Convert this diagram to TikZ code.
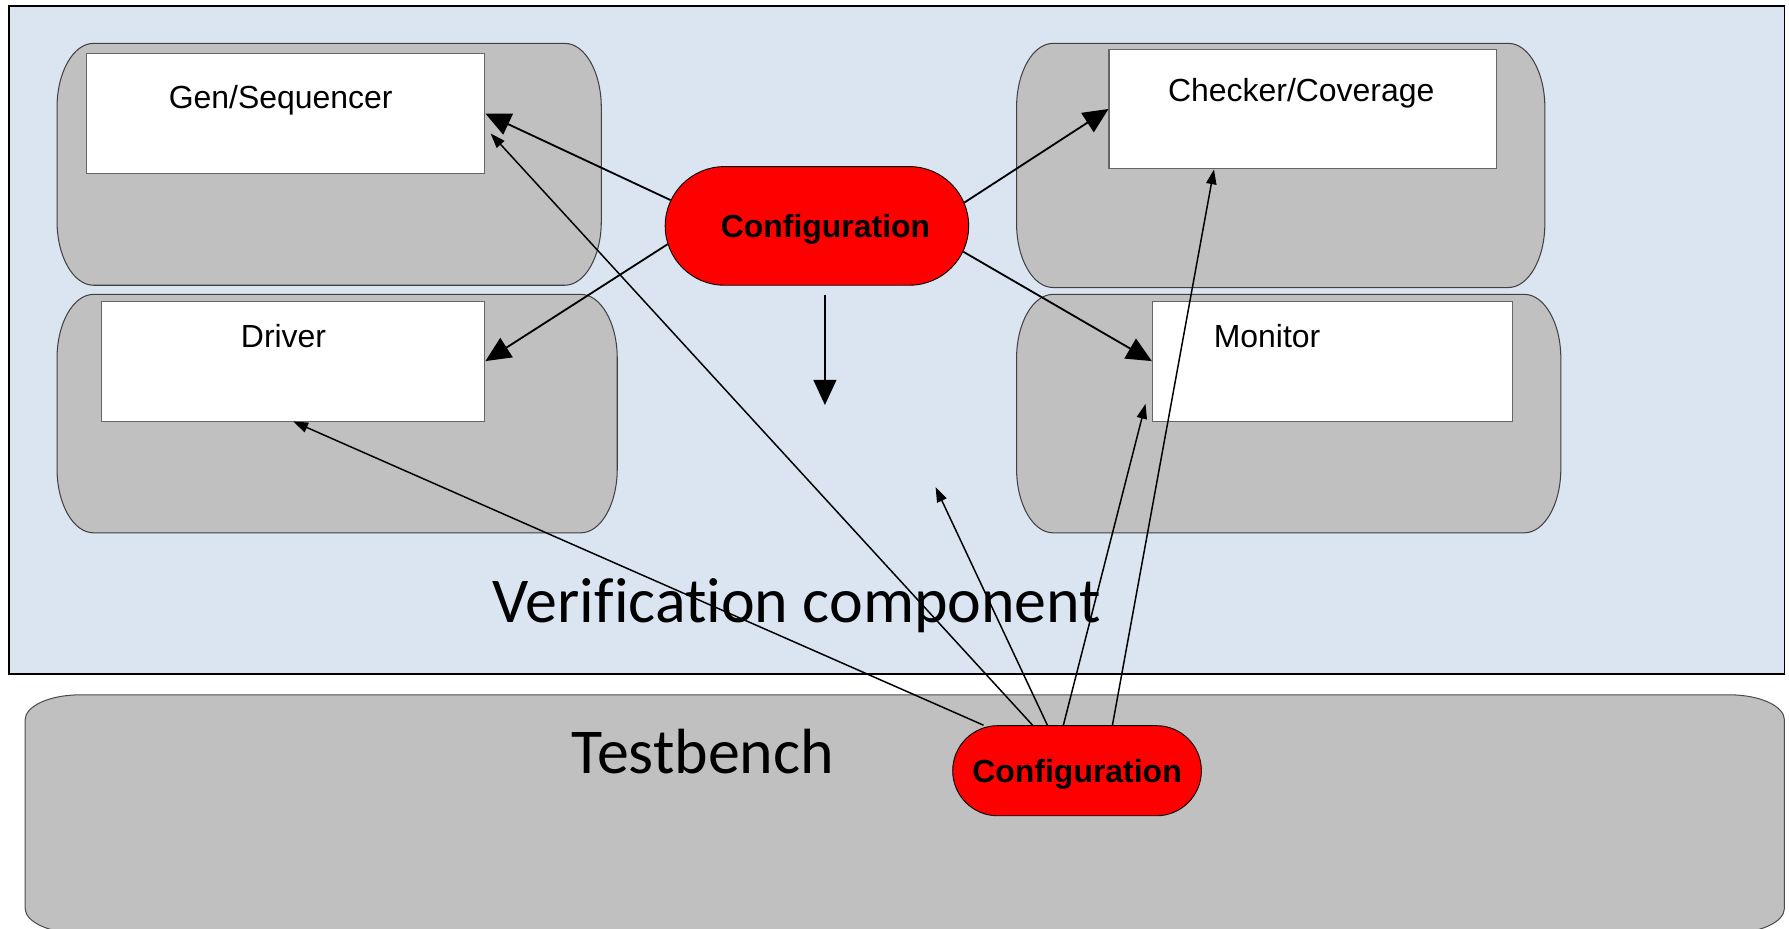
\documentclass[tikz,border=0pt]{standalone}
\usepackage{fontspec}
\setmainfont{Liberation Sans}
\newfontfamily\calib[Ligatures=NoCommon]{Carlito}
\usetikzlibrary{arrows.meta,shapes.misc}

\definecolor{vcblue}{RGB}{219,229,241}
\definecolor{compgray}{RGB}{192,192,192}
\definecolor{cfgred}{RGB}{255,0,0}

% rectangle with elliptical corners: style, x1, y1, x2, y2, rx, ry
\newcommand\softrect[7]{%
  \path[#1] ({#2+#6},#3) -- ({#4-#6},#3)
    .. controls ({#4-0.448*#6},#3) and (#4,{#3+0.448*#7}) .. (#4,{#3+#7})
    -- (#4,{#5-#7})
    .. controls (#4,{#5-0.448*#7}) and ({#4-0.448*#6},#5) .. ({#4-#6},#5)
    -- ({#2+#6},#5)
    .. controls ({#2+0.448*#6},#5) and (#2,{#5-0.448*#7}) .. (#2,{#5-#7})
    -- (#2,{#3+#7})
    .. controls (#2,{#3+0.448*#7}) and ({#2+0.448*#6},#3) .. ({#2+#6},#3) -- cycle;}

\begin{document}
\begin{tikzpicture}[x=1pt,y=-1pt,
  outerbox/.style={draw=black,line width=1.6pt,fill=vcblue},
  holder/.style={draw=black!75,line width=0.9pt,fill=compgray},
  tbfill/.style={draw=black!70,line width=0.9pt,fill=compgray},
  unitbox/.style={draw=black!60,line width=0.9pt,fill=white,inner sep=0pt},
  unitlabel/.style={font=\fontsize{28}{30}\selectfont,anchor=base,inner sep=0pt},
  cfgshape/.style={rounded rectangle,draw=black,line width=0.8pt,fill=cfgred,inner sep=0pt},
  cfglabel/.style={font=\fontsize{28}{30}\selectfont\bfseries,anchor=base,inner sep=0pt},
  biglabel/.style={font=\calib\fontsize{56}{60}\selectfont,anchor=base,inner sep=0pt},
  cfgarrow/.style={-{Triangle[length=22pt,width=20pt]},line width=1.6pt},
  tbarrow/.style={-{Triangle[length=13pt,width=9pt]},line width=1.3pt}]

\useasboundingbox (0,0) rectangle (1568,814);

% verification component frame
\draw[outerbox] (8,5) rectangle (1564,591);

% component holders
\softrect{holder}{50}{38}{527}{250}{32}{56}
\softrect{holder}{50}{258}{541}{467}{32}{56}
\softrect{holder}{891}{38}{1354}{252}{32}{56}
\softrect{holder}{891}{258}{1368}{467}{32}{56}

% component boxes
\node[unitbox,minimum width=349pt,minimum height=105pt] (gen) at (250.5,99.5) {};
\node[unitbox,minimum width=336pt,minimum height=105pt] (drv) at (257,316.5) {};
\node[unitbox,minimum width=340pt,minimum height=105pt] (chk) at (1142,95.5) {};
\node[unitbox,minimum width=316pt,minimum height=105pt] (mon) at (1168,316.5) {};

\node[unitlabel] (genlbl) at (246,95) {Gen/Sequencer};
\node[unitlabel] (drvlbl) at (248.5,305) {Driver};
\node[unitlabel] (chklbl) at (1140.5,89) {Checker/Coverage};
\node[unitlabel] (monlbl) at (1110.5,305) {Monitor};

% component configuration
\node[cfgshape,minimum width=266pt,minimum height=104pt] (cfgA) at (716,198) {};
\node[cfglabel] (cfgAlbl) at (723.5,208) {Configuration};

\node[biglabel] (vclbl) at (698.5,545.5) {Verif\kern0pt ication component};

% testbench
\softrect{tbfill}{22}{609}{1564}{818}{48}{22}
\node[biglabel] (tblbl) at (616,677.5) {Testbench};

\node[cfgshape,minimum width=218pt,minimum height=79pt] (cfgB) at (944,675.5) {};
\node[cfglabel] (cfgBlbl) at (944,686) {Configuration};

% free arrow ends
\coordinate (down) at (723,355);
\coordinate (genin) at (430,117);
\coordinate (mid) at (820,427);
\coordinate (monin) at (1004,354);

% configuration inside the component
\draw[cfgarrow] (cfgA.170) -- (gen.east);
\draw[cfgarrow] (cfgA.187) -- (drv.east);
\draw[cfgarrow] (cfgA.9) -- (chk.west);
\draw[cfgarrow] (cfgA.-10) -- (mon.west);
\draw[cfgarrow] ([shift={(7,8)}]cfgA.south) -- (down);

% configuration from the testbench
\draw[tbarrow] ([xshift=-82pt]cfgB.north) -- (drv.south);
\draw[tbarrow] ([xshift=-39pt]cfgB.north) -- (genin);
\draw[tbarrow] ([xshift=-26pt]cfgB.north) -- (mid);
\draw[tbarrow] ([xshift=-12pt]cfgB.north) -- (monin);
\draw[tbarrow] ([xshift=31pt]cfgB.north) -- ([xshift=-78pt]chk.south);
\end{tikzpicture}
\end{document}
